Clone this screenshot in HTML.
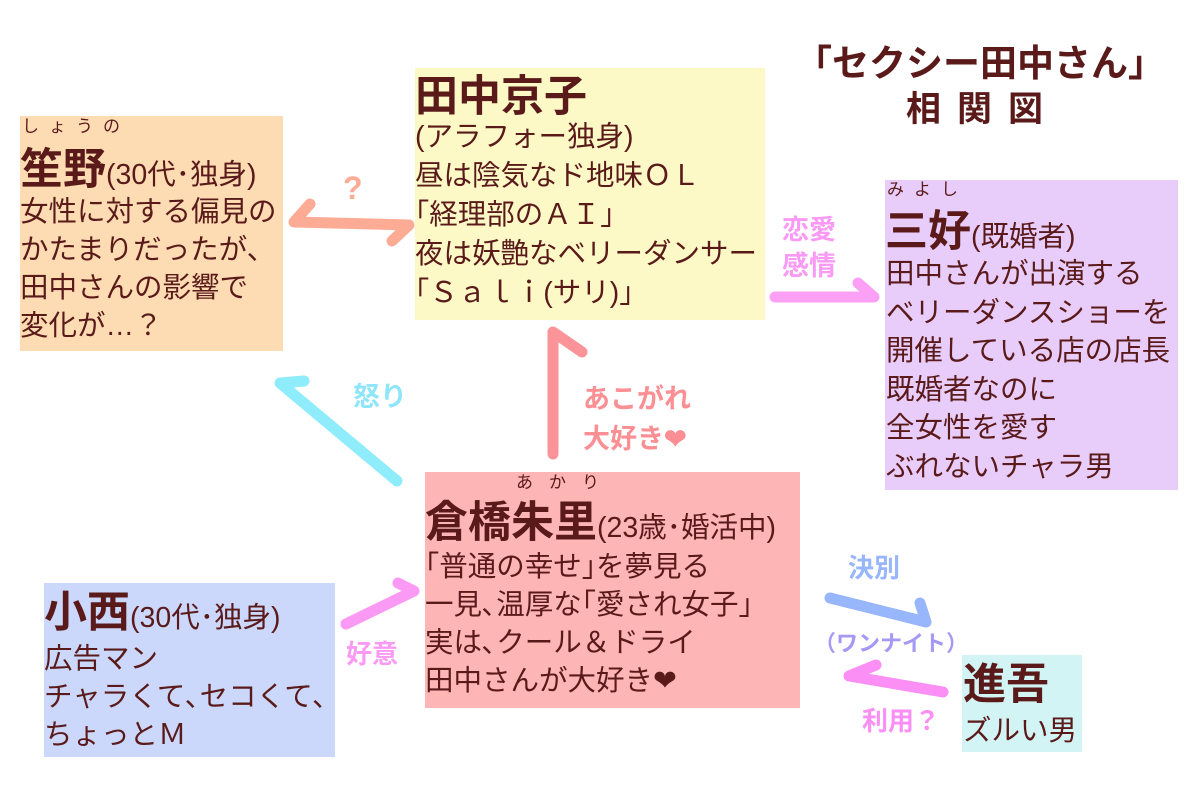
<!DOCTYPE html>
<html><head><meta charset="utf-8"><style>
body{margin:0;width:1200px;height:800px;background:#fff;position:relative;overflow:hidden;font-family:"Liberation Sans","Noto Sans CJK JP",sans-serif;color:#5a1a1a}
.b{position:absolute}
.t{position:absolute;white-space:nowrap;font-size:28.5px;line-height:38px}
.n{font-size:43px;font-weight:bold}
.f{position:absolute;font-size:17px;letter-spacing:10px;white-space:nowrap;line-height:18px}
.lb{position:absolute;font-weight:bold;font-size:27px;white-space:nowrap;line-height:36px}
</style></head><body>
<div class="b" style="left:20px;top:116px;width:263px;height:235px;background:#fddcb3"></div>
<div class="b" style="left:415px;top:68px;width:350px;height:252px;background:#fdf9c7"></div>
<div class="b" style="left:885px;top:180px;width:293px;height:310px;background:#e8cdfb"></div>
<div class="b" style="left:425px;top:472px;width:375px;height:236px;background:#fdb5b5"></div>
<div class="b" style="left:44px;top:583px;width:291px;height:174px;background:#cbd8fc"></div>
<div class="b" style="left:962px;top:655px;width:120px;height:97px;background:#d3f4f4"></div>

<div class="t" style="left:795px;top:42px;font-size:37px;font-weight:bold;line-height:44px">「セクシー田中さん」</div>
<div class="t" style="left:906px;top:88px;font-size:35px;font-weight:bold;letter-spacing:16px;line-height:44px">相関図</div>

<div class="f" style="left:22px;top:118px">しょうの</div>
<div class="t" style="left:20px;top:151px"><span class="n">笙野</span>(30代･独身)</div>
<div class="t" style="left:20px;top:193px">女性に対する偏見の<br>かたまりだったが、<br>田中さんの影響で<br>変化が…？</div>

<div class="t" style="left:415px;top:78px"><span class="n">田中京子</span></div>
<div class="t" style="left:415px;top:118px;line-height:39px">(アラフォー独身)<br>昼は陰気なド地味ＯＬ<br>｢経理部のＡＩ｣<br>夜は妖艶なベリーダンサー<br>｢Ｓａｌｉ(サリ)｣</div>

<div class="f" style="left:887px;top:181px">みよし</div>
<div class="t" style="left:885px;top:213px"><span class="n">三好</span>(既婚者)</div>
<div class="t" style="left:886px;top:255px;line-height:38.6px">田中さんが出演する<br>ベリーダンスショーを<br>開催している店の店長<br>既婚者なのに<br>全女性を愛す<br>ぶれないチャラ男</div>

<div class="f" style="left:516px;top:474px;letter-spacing:16px">あかり</div>
<div class="t" style="left:425px;top:504px"><span class="n">倉橋朱里</span>(23歳･婚活中)</div>
<div class="t" style="left:425px;top:548px">｢普通の幸せ｣を夢見る<br>一見､温厚な｢愛され女子｣<br>実は､クール＆ドライ<br>田中さんが大好き❤</div>

<div class="t" style="left:44px;top:594px"><span class="n">小西</span>(30代･独身)</div>
<div class="t" style="left:44px;top:640px">広告マン<br>チャラくて､セコくて､<br>ちょっとＭ</div>

<div class="t" style="left:963px;top:666px"><span class="n">進吾</span></div>
<div class="t" style="left:963px;top:712px">ズルい男</div>

<svg class="b" style="left:0;top:0" width="1200" height="800" fill="none" stroke-linecap="round" stroke-linejoin="round" stroke-width="11">
<polyline points="310,204 294,222 409,225 392,241" stroke="#fdab95"/>
<polyline points="775,297 874,297 858,283" stroke="#fba0f5"/>
<polyline points="397,481 280,383 304,381" stroke="#8fecfb"/>
<polyline points="553,454 553,332 582,352" stroke="#fb9498"/>
<polyline points="346,624 414,591 398,583" stroke="#fb9af5"/>
<polyline points="830,598 926,622 920,603" stroke="#98b6fb"/>
<polyline points="943,692 849,676 876,665" stroke="#fb8ff5"/>
</svg>

<div class="lb" style="left:343px;top:170px;color:#fdab95;font-size:32px">?</div>
<div class="lb" style="left:782px;top:212px;color:#fb9af5">恋愛<br>感情</div>
<div class="lb" style="left:353px;top:379px;color:#8fe6fb">怒り</div>
<div class="lb" style="left:583px;top:379px;color:#fb8f94;line-height:40px">あこがれ<br>大好き❤</div>
<div class="lb" style="left:346px;top:636px;color:#fb9af5;font-size:26px">好意</div>
<div class="lb" style="left:848px;top:550px;color:#98b6fb;font-size:26px">決別</div>
<div class="lb" style="left:814px;top:626px;color:#a49af5;font-size:22px">（ワンナイト）</div>
<div class="lb" style="left:862px;top:703px;color:#fb8ff5;font-size:26px">利用？</div>
</body></html>
